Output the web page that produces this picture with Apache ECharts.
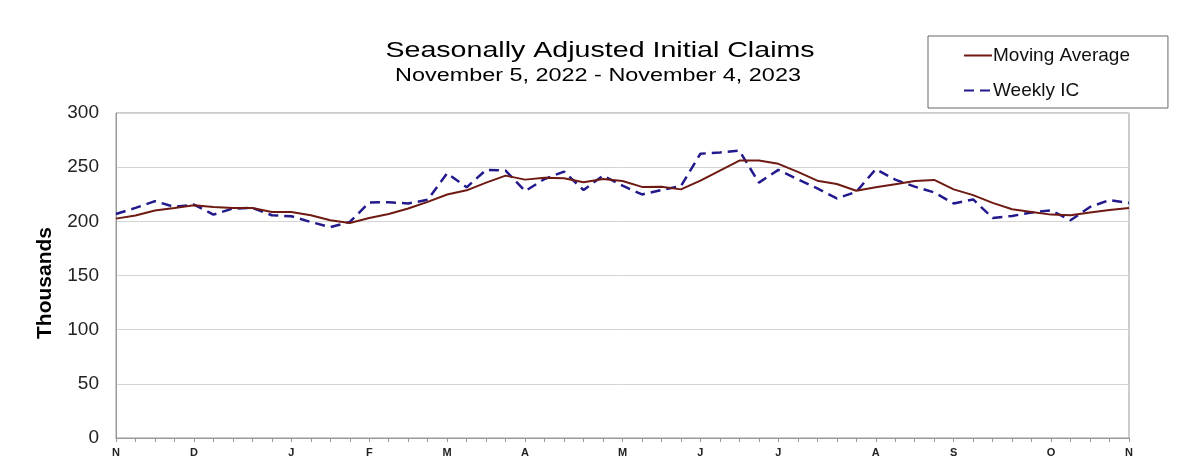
<!DOCTYPE html>
<html>
<head>
<meta charset="utf-8">
<script src="https://cdn.jsdelivr.net/npm/echarts@6/dist/echarts.min.js"></script>
<style>
  html, body { margin: 0; padding: 0; background: #fff; }
  #chart { width: 1200px; height: 474px; }
</style>
</head>
<body>
<div id="chart"></div>
<script>
// week ending dates, Nov 5 2022 .. Nov 4 2023
var weeks = [
  '2022-11-05','2022-11-12','2022-11-19','2022-11-26',
  '2022-12-03','2022-12-10','2022-12-17','2022-12-24','2022-12-31',
  '2023-01-07','2023-01-14','2023-01-21','2023-01-28',
  '2023-02-04','2023-02-11','2023-02-18','2023-02-25',
  '2023-03-04','2023-03-11','2023-03-18','2023-03-25',
  '2023-04-01','2023-04-08','2023-04-15','2023-04-22','2023-04-29',
  '2023-05-06','2023-05-13','2023-05-20','2023-05-27',
  '2023-06-03','2023-06-10','2023-06-17','2023-06-24',
  '2023-07-01','2023-07-08','2023-07-15','2023-07-22','2023-07-29',
  '2023-08-05','2023-08-12','2023-08-19','2023-08-26',
  '2023-09-02','2023-09-09','2023-09-16','2023-09-23','2023-09-30',
  '2023-10-07','2023-10-14','2023-10-21','2023-10-28',
  '2023-11-04'
];
var monthLetters = ['J','F','M','A','M','J','J','A','S','O','N','D'];

// thousands
var movingAverage = [
  202.5, 205.3, 210.0, 212.4, 214.9, 213.3, 212.4, 212.4, 208.7, 208.6,
  205.6, 201.0, 198.5, 203.0, 206.8, 211.8, 218.0, 224.8, 228.6, 235.7,
  242.2, 238.5, 240.3, 239.7, 236.0, 239.1, 237.2, 231.8, 231.9, 229.5,
  237.5, 246.8, 256.1, 256.1, 253.1, 245.6, 237.5, 234.5, 228.2, 231.4,
  234.3, 237.2, 238.2, 229.5, 224.2, 217.0, 211.2, 208.7, 206.2, 205.6,
  208.1, 210.5, 212.3
];
var weeklyIC = [
  206.8, 212.4, 218.6, 213.3, 215.5, 206.2, 211.8, 212.4, 205.6, 204.7,
  199.4, 194.7, 199.4, 217.4, 217.7, 216.5, 219.9, 244.4, 231.4, 247.5,
  246.8, 227.9, 239.1, 245.9, 228.9, 242.2, 232.9, 224.8, 228.9, 232.6,
  262.4, 263.6, 265.2, 235.7, 247.5, 238.8, 230.4, 221.1, 227.3, 248.1,
  238.5, 232.0, 226.7, 216.5, 220.2, 203.1, 205.0, 208.1, 210.2, 201.0,
  213.3, 219.6, 217.0
];

var FONT = 'Liberation Sans, Arial, sans-serif';

var myChart = echarts.init(document.getElementById('chart'));
myChart.setOption({
  animation: false,
  textStyle: { fontFamily: FONT },
  // titles are drawn a bit stretched sideways, like the source picture
  graphic: [
    {
      type: 'text', x: 600, y: 51, scaleX: 1.3,
      style: { text: 'Seasonally Adjusted Initial Claims', font: '22px ' + FONT,
        fill: '#000', textAlign: 'center', textVerticalAlign: 'middle' }
    },
    {
      type: 'text', x: 598, y: 76, scaleX: 1.3,
      style: { text: 'November 5, 2022 - November 4, 2023', font: '18px ' + FONT,
        fill: '#000', textAlign: 'center', textVerticalAlign: 'middle' }
    },
    {
      type: 'text', x: 45, y: 283, rotation: Math.PI / 2,
      style: { text: 'Thousands', font: 'bold 21px ' + FONT,
        fill: '#000', textAlign: 'center', textVerticalAlign: 'middle' }
    }
  ],
  legend: {
    orient: 'vertical',
    left: 928,
    top: 36,
    borderColor: '#666',
    borderWidth: 1,
    padding: [10, 38, 8, 35],
    itemGap: 16,
    itemWidth: 28,
    itemHeight: 14,
    itemStyle: { opacity: 0 },
    textStyle: { fontSize: 19, color: '#111', padding: [0, 0, 0, -4] },
    data: ['Moving Average', 'Weekly IC']
  },
  grid: {
    left: 116,
    right: 71,
    top: 113,
    bottom: 36,
    show: true,
    borderColor: '#999',
    borderWidth: 1
  },
  xAxis: {
    type: 'category',
    boundaryGap: false,
    data: weeks,
    axisLine: { lineStyle: { color: '#999' } },
    axisTick: { interval: 0, length: 4, lineStyle: { color: '#999' } },
    axisLabel: {
      interval: 0,
      margin: 9,
      fontSize: 11,
      fontWeight: 'bold',
      color: '#222',
      formatter: function (v) {
        var p = v.split('-');
        return parseInt(p[2], 10) <= 7 ? monthLetters[parseInt(p[1], 10) - 1] : '';
      }
    },
    splitLine: { show: false }
  },
  yAxis: {
    type: 'value',
    min: 0,
    max: 300,
    interval: 50,
    axisLine: { show: true, lineStyle: { color: '#999' } },
    axisTick: { show: false },
    axisLabel: { fontSize: 19, color: '#222', margin: 17 },
    splitLine: { lineStyle: { color: '#d4d4d4' } }
  },
  series: [
    {
      name: 'Moving Average',
      type: 'line',
      data: movingAverage,
      symbol: 'none',
      z: 3,
      itemStyle: { color: '#6e1a12' },
      lineStyle: { color: '#6e1a12', width: 2 }
    },
    {
      name: 'Weekly IC',
      type: 'line',
      data: weeklyIC,
      symbol: 'none',
      z: 2,
      itemStyle: { color: '#221a8c' },
      lineStyle: { color: '#221a8c', width: 2.5, type: [10, 6] }
    }
  ]
});
</script>
</body>
</html>
